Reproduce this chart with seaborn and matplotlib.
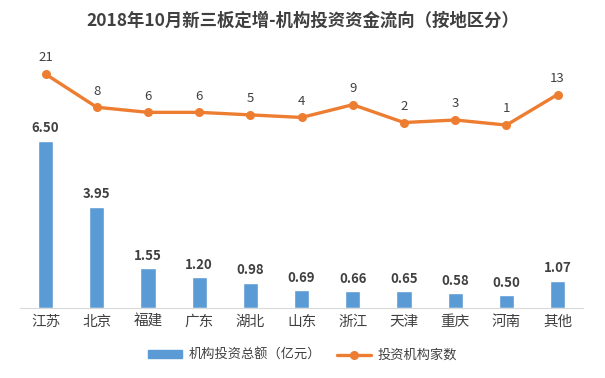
import seaborn as sns
import matplotlib.pyplot as plt
import pandas as pd
from matplotlib.patches import Patch
from matplotlib.lines import Line2D

regions = ["江苏", "北京", "福建", "广东", "湖北", "山东", "浙江", "天津", "重庆", "河南", "其他"]
amounts = [6.50, 3.95, 1.55, 1.20, 0.98, 0.69, 0.66, 0.65, 0.58, 0.50, 1.07]
counts = [21, 8, 6, 6, 5, 4, 9, 2, 3, 1, 13]

df = pd.DataFrame({"region": regions, "amount": amounts, "count": counts})

sns.set_style("white")
plt.rcParams['font.family'] = ['Noto Sans CJK SC', 'DejaVu Sans']

bar_color = "#5B9BD5"
line_color = "#ED7D31"
text_color = "#404040"

fig = plt.figure(figsize=(6.05, 3.78), dpi=100)
ax = fig.add_axes([0.033, 0.185, 0.931, 0.656])

sns.barplot(data=df, x="region", y="amount", color=bar_color, width=0.3,
            saturation=1, ax=ax)
ax.set_ylim(0, 9.65)
ax.set_xlim(-0.5, len(regions) - 0.5)
for i, v in enumerate(amounts):
    ax.annotate(f"{v:.2f}", (i, v), xytext=(0, 4), textcoords="offset points",
                ha="center", va="bottom", fontsize=9.5, fontweight="bold", color=text_color)

ax2 = ax.twinx()
sns.lineplot(data=df, x="region", y="count", color=line_color, linewidth=2.4,
             marker="o", markersize=6.5, markeredgewidth=0, ax=ax2)
ax2.set_ylim(-70.8, 26.5)
for i, v in enumerate(counts):
    ax2.annotate(str(v), (i, v), xytext=(0, 7), textcoords="offset points",
                 ha="center", va="bottom", fontsize=9.5, color=text_color)

for a in (ax, ax2):
    a.set_xlabel("")
    a.set_ylabel("")
    a.set_yticks([])
    for s in a.spines.values():
        s.set_visible(False)
ax.spines["bottom"].set_visible(True)
ax.spines["bottom"].set_color("#D9D9D9")
ax.tick_params(axis="x", length=0, labelsize=10.5, labelcolor=text_color, pad=5)

fig.suptitle("2018年10月新三板定增-机构投资资金流向（按地区分）", x=0.5, y=0.97,
             fontsize=12.5, fontweight="bold", color=text_color)

handles = [Patch(color=bar_color, label="机构投资总额（亿元）"),
           Line2D([0], [0], color=line_color, linewidth=2.4, marker="o", markersize=5.5,
                  label="投资机构家数")]
fig.legend(handles=handles, loc="center", bbox_to_anchor=(0.5, 0.06), ncol=2, frameon=False,
           fontsize=9.5, handlelength=2.6, handleheight=0.55, handletextpad=0.5,
           columnspacing=1.2, labelcolor=text_color)

fig.savefig("out.png", dpi=100)
